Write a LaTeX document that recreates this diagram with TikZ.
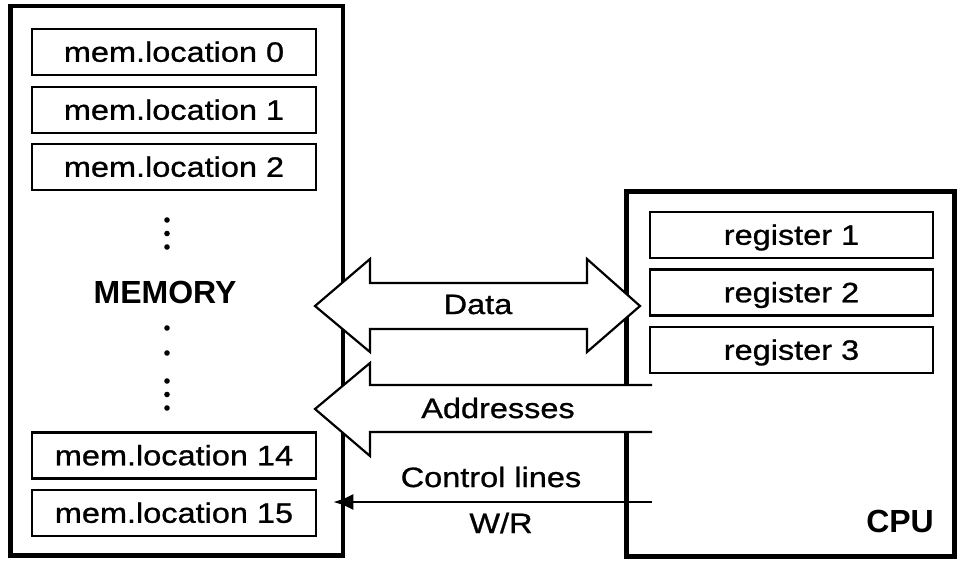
\documentclass[tikz,border=0pt]{standalone}
\usepackage{fontspec}
\setmainfont{Liberation Sans}[FakeStretch=1.16, FakeBold=0.9]
\newfontfamily\titlefont{Liberation Sans}
\usetikzlibrary{arrows.meta}

\newcommand{\bodyfont}{\fontsize{28}{30}\selectfont}
\newcommand{\headfont}{\titlefont\bfseries\fontsize{32}{36}\selectfont}

\tikzset{
  outerbox/.style={draw, line width=4.5pt, rectangle, inner sep=0pt},
  cellbox/.style={draw, line width=2.5pt, rectangle, inner sep=0pt,
    minimum height=46pt, font=\bodyfont, text height=19.5pt, text depth=0pt},
  memcell/.style={cellbox, minimum width=284pt},
  regcell/.style={cellbox, minimum width=283pt},
  bus/.style={draw, fill=white, line width=2.2pt, line join=miter},
  txt/.style={inner sep=0pt, anchor=base, font=\bodyfont},
  heading/.style={inner sep=0pt, font=\headfont},
  dotmark/.style={fill, circle, inner sep=0pt, minimum size=5.6pt},
}

\begin{document}
\begin{tikzpicture}[x=1pt, y=-1pt]
  % canvas
  \fill[white] (0,0) rectangle (960,560);
  \useasboundingbox (0,0) rectangle (960,560);

  % memory unit and its locations
  \node[outerbox, minimum width=332.5pt, minimum height=549.5pt] (mem) at (176.75,280.75) {};
  \node[memcell] (m0)  at (174,52)    {mem.location 0};
  \node[memcell] (m1)  at (174,110)   {mem.location 1};
  \node[memcell] (m2)  at (174,167)   {mem.location 2};
  \node[memcell] (m14) at (174,455.5) {mem.location 14};
  \node[memcell] (m15) at (174,513)   {mem.location 15};

  % ellipsis dots between the locations
  \foreach \yy [count=\i] in {220,233.5,247,328,353,381,394.5,408}
    \node[dotmark] (dot\i) at (167,\yy) {};
  \node[heading, anchor=base] (memlabel) at (165,303) {MEMORY};

  % processor and its registers
  \node[outerbox, minimum width=328pt, minimum height=365pt] (cpu) at (790.5,374) {};
  \node[regcell] (r1) at (791.5,235)   {register 1};
  \node[regcell] (r2) at (791.5,292.5) {register 2};
  \node[regcell] (r3) at (791.5,350)   {register 3};
  \node[heading, anchor=base east] (cpulabel) at (934,532) {CPU};

  % data bus: two-headed block arrow
  \draw[bus] (315,306) -- (370,259) -- (370,283) -- (587,283) -- (587,259)
    -- (640,306) -- (587,352) -- (587,329) -- (370,329) -- (370,352) -- cycle;
  \node[txt] (datalabel) at (478,314) {Data};

  % address bus: block arrow leaving the processor
  \fill[white] (652,385) -- (370,385) -- (370,363) -- (315,409)
    -- (370,456) -- (370,432) -- (652,432) -- cycle;
  \draw[line width=2.2pt, line join=miter] (652,385) -- (370,385) -- (370,363)
    -- (315,409) -- (370,456) -- (370,432) -- (652,432);
  \node[txt] (addrlabel) at (498,418) {Addresses};

  % control lines: write/read signal
  \coordinate (wrsrc) at (652,502);
  \draw[line width=2.2pt, -{Latex[length=20pt,width=16pt]}, shorten >=-12pt]
    (wrsrc) -- (wrsrc -| mem.east);
  \node[txt] (ctrllabel) at (491,487) {Control lines};
  \node[txt] (wrlabel) at (501,533) {W/R};
\end{tikzpicture}
\end{document}
